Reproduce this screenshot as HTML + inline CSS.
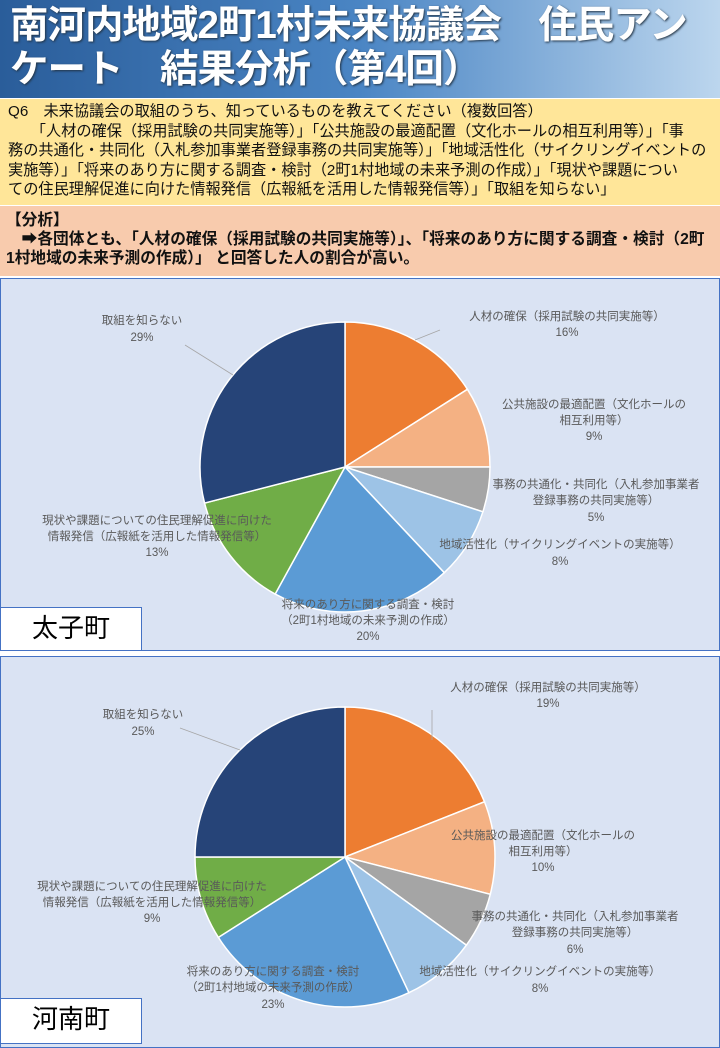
<!DOCTYPE html>
<html><head><meta charset="utf-8"><style>
body{margin:0;width:720px;height:1040px;overflow:hidden;background:#fff;font-family:"Liberation Sans","Noto Sans CJK JP",sans-serif;position:relative}
.hdr{position:absolute;left:0;top:0;width:720px;height:98px;background:linear-gradient(90deg,#2a5d9a 0%,#4a85c4 50%,#bcd6ee 100%)}
.hdr div{position:absolute;left:10px;top:4px;color:#fff;font-size:38.5px;font-weight:bold;line-height:44px;letter-spacing:-1px;text-shadow:1px 1px 2px #234;white-space:nowrap}
.q{position:absolute;left:0;top:99px;width:720px;height:106px;background:#ffe699;font-size:15.2px;line-height:19.5px;color:#111;box-sizing:border-box;padding:3px 8px;white-space:nowrap;overflow:hidden}
.a{position:absolute;left:0;top:206px;width:720px;height:70px;background:#f8cbad;font-size:15.7px;line-height:19px;color:#111;box-sizing:border-box;padding:5px 6px;font-weight:bold;white-space:nowrap;overflow:hidden}
.panel{position:absolute;left:0;width:718px;background:#dae3f3;border:1px solid #4472c4}
.lbl{position:absolute;left:0;width:140px;background:#fff;border:1px solid #4472c4;font-size:26px;text-align:center;line-height:40px;color:#000}
svg text{font-family:"Liberation Sans","Noto Sans CJK JP",sans-serif;font-size:11.5px;fill:#595959;text-anchor:middle}
</style></head><body>
<div class="hdr"><div>南河内地域2町1村未来協議会　住民アン<br>ケート　結果分析（第4回）</div></div>
<div class="q">Q6　未来協議会の取組のうち、知っているものを教えてください（複数回答）<br>　　「人材の確保（採用試験の共同実施等）」「公共施設の最適配置（文化ホールの相互利用等）」「事<br>務の共通化・共同化（入札参加事業者登録事務の共同実施等）」「地域活性化（サイクリングイベントの<br>実施等）」「将来のあり方に関する調査・検討（2町1村地域の未来予測の作成）」「現状や課題につい<br>ての住民理解促進に向けた情報発信（広報紙を活用した情報発信等）」「取組を知らない」</div>
<div class="a">【分析】<br>　➡各団体とも、「人材の確保（採用試験の共同実施等）」、「将来のあり方に関する調査・検討（2町<br>1村地域の未来予測の作成）」 と回答した人の割合が高い。</div>
<div class="panel" style="top:278px;height:371px"></div>
<div class="lbl" style="top:607px;height:42px">太子町</div>
<div class="panel" style="top:656px;height:390px"></div>
<div class="lbl" style="top:998px;height:44px">河南町</div>
<svg width="720" height="1040" style="position:absolute;left:0;top:0">
<g id="p1"></g><g id="p2"></g>
<g stroke="#a6a6a6" fill="none" stroke-width="0.8">
<line x1="415" y1="340" x2="440" y2="330"/>
<line x1="233" y1="375" x2="185" y2="345"/>
<line x1="432" y1="710" x2="432" y2="740"/>
<line x1="240" y1="750" x2="180" y2="728"/>
</g>
<text x="567" y="320">人材の確保（採用試験の共同実施等）</text><text x="567" y="336">16%</text>
<text x="594" y="408">公共施設の最適配置（文化ホールの</text><text x="594" y="424">相互利用等）</text><text x="594" y="440">9%</text>
<text x="596" y="488">事務の共通化・共同化（入札参加事業者</text><text x="596" y="504">登録事務の共同実施等）</text><text x="596" y="521">5%</text>
<text x="560" y="548">地域活性化（サイクリングイベントの実施等）</text><text x="560" y="565">8%</text>
<text x="368" y="608">将来のあり方に関する調査・検討</text><text x="368" y="624">（2町1村地域の未来予測の作成）</text><text x="368" y="640">20%</text>
<text x="157" y="524">現状や課題についての住民理解促進に向けた</text><text x="157" y="540">情報発信（広報紙を活用した情報発信等）</text><text x="157" y="556">13%</text>
<text x="142" y="324">取組を知らない</text><text x="142" y="341">29%</text>
<text x="548" y="691">人材の確保（採用試験の共同実施等）</text><text x="548" y="707">19%</text>
<text x="543" y="839">公共施設の最適配置（文化ホールの</text><text x="543" y="855">相互利用等）</text><text x="543" y="871">10%</text>
<text x="575" y="920">事務の共通化・共同化（入札参加事業者</text><text x="575" y="936">登録事務の共同実施等）</text><text x="575" y="953">6%</text>
<text x="540" y="975">地域活性化（サイクリングイベントの実施等）</text><text x="540" y="992">8%</text>
<text x="273" y="975">将来のあり方に関する調査・検討</text><text x="273" y="991">（2町1村地域の未来予測の作成）</text><text x="273" y="1008">23%</text>
<text x="152" y="890">現状や課題についての住民理解促進に向けた</text><text x="152" y="906">情報発信（広報紙を活用した情報発信等）</text><text x="152" y="922">9%</text>
<text x="143" y="718">取組を知らない</text><text x="143" y="735">25%</text>
</svg>
<script>
var cols=["#ed7d31","#f4b183","#a5a5a5","#9dc3e6","#5b9bd5","#70ad47","#264478"];
function pie(id,cx,cy,r,v){var g=document.getElementById(id),a=0,s="";
for(var i=0;i<v.length;i++){var a0=a;a+=v[i]/100*2*Math.PI;
var x0=cx+r*Math.sin(a0),y0=cy-r*Math.cos(a0),x1=cx+r*Math.sin(a),y1=cy-r*Math.cos(a);
s+='<path d="M'+cx+' '+cy+'L'+x0+' '+y0+'A'+r+' '+r+' 0 '+((a-a0)>Math.PI?1:0)+' 1 '+x1+' '+y1+'Z" fill="'+cols[i]+'" stroke="#fff" stroke-width="1.5"/>';}
g.innerHTML=s;}
pie("p1",345,467,145,[16,9,5,8,20,13,29]);
pie("p2",345,857,150,[19,10,6,8,23,9,25]);
</script>
</body></html>
